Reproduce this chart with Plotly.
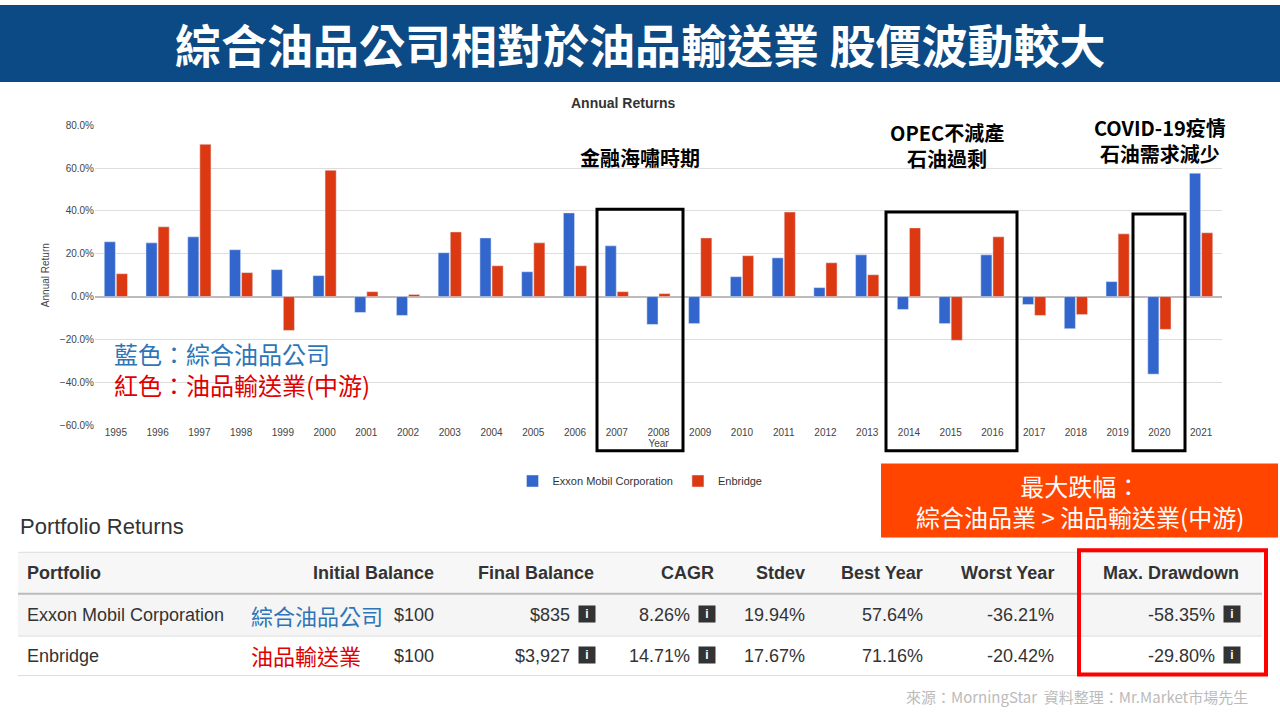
import plotly.graph_objects as go

years = [str(y) for y in range(1995, 2022)]
exxon = [25.6, 25.1, 27.9, 21.9, 12.6, 9.8, -7.4, -8.8, 20.5, 27.4, 11.6, 39.1, 23.7, -13.0,
         -12.6, 9.3, 18.1, 4.2, 19.5, -6.0, -12.6, 19.5, -3.7, -15.0, 7.0, -36.21, 57.64]
enbridge = [10.7, 32.6, 71.16, 11.2, -15.8, 59.0, 2.3, 1.0, 30.2, 14.4, 25.1, 14.4, 2.3, 1.4,
            27.4, 19.1, 39.5, 15.8, 10.2, 32.1, -20.42, 27.9, -8.8, -8.4, 29.3, -15.3, 29.8]

headers = ["Portfolio", "Initial Balance", "Final Balance", "CAGR", "Stdev", "Best Year", "Worst Year", "Max. Drawdown"]
row_exxon = ["Exxon Mobil Corporation", "$100", "$835", "8.26%", "19.94%", "57.64%", "-36.21%", "-58.35%"]
row_enb = ["Enbridge", "$100", "$3,927", "14.71%", "17.67%", "71.16%", "-20.42%", "-29.80%"]

W, H = 1280, 720
def px(x): return x / W
def py(y): return 1 - y / H

fig = go.Figure()
fig.add_trace(go.Bar(x=years, y=[v / 100 for v in exxon], name="Exxon Mobil Corporation", marker_color="#3366cc"))
fig.add_trace(go.Bar(x=years, y=[v / 100 for v in enbridge], name="Enbridge", marker_color="#dc3912"))

fig.update_layout(
    width=W, height=H, margin=dict(l=0, r=0, t=0, b=0),
    paper_bgcolor="white", plot_bgcolor="white",
    font=dict(family="Noto Sans CJK TC, Arial", color="#222"),
    barmode="group", bargap=0.42, bargroupgap=0.08,
    xaxis=dict(domain=[px(95), px(1222)], tickfont=dict(size=10, color="#444", family="Arial"), showgrid=False,
               title=dict(text="Year", font=dict(size=10, color="#444", family="Arial"), standoff=0)),
    yaxis=dict(domain=[py(426), py(122)], range=[-0.6, 0.8], dtick=0.2, tickformat=".1%",
               tickfont=dict(size=10, color="#444", family="Arial"), gridcolor="#dddddd", zeroline=True, zerolinecolor="#bbbbbb",
               title=dict(text="Annual Return", font=dict(size=10, color="#444", family="Arial"), standoff=8)),
    legend=dict(orientation="h", x=0.5, xanchor="center", y=py(468), yanchor="top", bgcolor="rgba(0,0,0,0)",
                font=dict(size=11, color="#333", family="Arial")),
    showlegend=True,
)

shapes = []
annots = []
def ann(text, x, y, size, color, xanchor="center", family=None, **kw):
    f = dict(size=size, color=color)
    if family:
        f["family"] = family
    annots.append(dict(text=text, x=px(x), y=py(y), xref="paper", yref="paper", xanchor=xanchor,
                       yanchor="middle", showarrow=False, font=f, **kw))

shapes.append(dict(type="rect", xref="paper", yref="paper", x0=0, x1=1, y0=py(78), y1=1,
                   fillcolor="#0b4a84", line_width=0, layer="below"))
ann("<b>綜合油品公司相對於油品輸送業 股價波動較大</b>", 640, 39, 46, "white")
ann("<b>Annual Returns</b>", 623, 99, 14, "#333", family="Arial")
for x0, x1, y0, y1 in [(597, 683, 207, 452), (886, 1017, 210, 452), (1133, 1185, 212, 452)]:
    shapes.append(dict(type="rect", xref="paper", yref="paper", x0=px(x0), x1=px(x1), y0=py(y1), y1=py(y0),
                       line=dict(color="black", width=3)))
ann("<b>金融海嘯時期</b>", 640, 155, 20, "black")
ann("<b>OPEC不減產<br>石油過剩</b>", 947, 142, 20, "black")
ann("<b>COVID-19疫情<br>石油需求減少</b>", 1160, 137, 20, "black")
ann("藍色：綜合油品公司", 112, 353, 24, "#2e75b6", xanchor="left")
ann("紅色：油品輸送業(中游)", 112, 385, 24, "#e00000", xanchor="left")
shapes.append(dict(type="rect", xref="paper", yref="paper", x0=px(881), x1=px(1278), y0=py(540), y1=py(465),
                   fillcolor="#ff4500", line_width=0))
ann("最大跌幅：<br>綜合油品業 > 油品輸送業(中游)", 1080, 503, 24, "white")
ann("Portfolio Returns", 18, 529, 22, "#333", xanchor="left", family="Arial")
shapes.append(dict(type="rect", xref="paper", yref="paper", x0=px(18), x1=px(1262), y0=py(597), y1=py(555),
                   fillcolor="#f7f7f7", line_width=0, layer="below"))
shapes.append(dict(type="rect", xref="paper", yref="paper", x0=px(18), x1=px(1262), y0=py(640), y1=py(597),
                   fillcolor="#f5f5f5", line_width=0, layer="below"))
for yy, w, c in [(555, 1, "#ddd"), (597, 2, "#bbb"), (640, 1, "#ddd"), (680, 1, "#ddd")]:
    shapes.append(dict(type="line", xref="paper", yref="paper", x0=px(18), x1=px(1262), y0=py(yy), y1=py(yy),
                       line=dict(color=c, width=w)))
col_x = [25, 436, 596, 716, 807, 925, 1056, 1241]
info_cols = {2, 3, 7}
for i, h in enumerate(headers):
    ann("<b>" + h + "</b>", col_x[i], 576, 18, "#333", xanchor="left" if i == 0 else "right", family="Arial")
for row, yy in [(row_exxon, 619), (row_enb, 660)]:
    for i, v in enumerate(row):
        xr = col_x[i] - (24 if i in info_cols else 0)
        ann(v, xr, yy, 18, "#333", xanchor="left" if i == 0 else "right", family="Arial")
        if i in info_cols:
            ann("<b>i</b>", col_x[i] - 9, yy - 1, 12, "white", family="Arial", bgcolor="#333",
                width=16, height=16, borderpad=0)
ann("綜合油品公司", 249, 619, 22, "#2e75b6", xanchor="left")
ann("油品輸送業", 249, 659, 22, "#e00000", xanchor="left")
shapes.append(dict(type="rect", xref="paper", yref="paper", x0=px(1079), x1=px(1266), y0=py(679), y1=py(553),
                   line=dict(color="#ff0000", width=4)))
ann("來源：MorningStar  資料整理：Mr.Market市場先生", 1250, 701, 15, "#bbbbbb", xanchor="right")

fig.update_layout(shapes=shapes, annotations=annots)
fig.write_html("out.html", config={"displayModeBar": False},
               post_script="document.body.style.margin='0';document.body.style.overflow='hidden';")
